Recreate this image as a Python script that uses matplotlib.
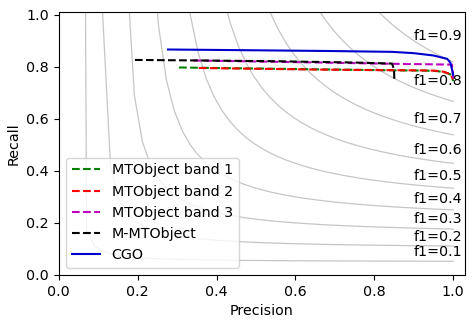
import numpy as np
import matplotlib
matplotlib.use("Agg")
import matplotlib.pyplot as plt

plt.rcParams['font.size'] = 10.3

# precision / recall curves for each detector
band1_p = [0.305, 0.45, 0.6, 0.75, 0.85, 0.93, 0.96, 0.98, 0.992, 0.997, 1.0]
band1_r = [0.797, 0.794, 0.791, 0.788, 0.786, 0.785, 0.783, 0.778, 0.771, 0.760, 0.745]

band2_p = [0.355, 0.5, 0.65, 0.8, 0.9, 0.95, 0.975, 0.99, 0.996, 1.0]
band2_r = [0.795, 0.792, 0.789, 0.787, 0.786, 0.785, 0.781, 0.773, 0.762, 0.752]

band3_p = [0.341, 0.5, 0.7, 0.85, 0.95, 0.997, 0.999, 1.0]
band3_r = [0.824, 0.820, 0.815, 0.811, 0.809, 0.808, 0.78, 0.755]

mmto_p = [0.193, 0.35, 0.55, 0.75, 0.845, 0.85, 0.851]
mmto_r = [0.826, 0.824, 0.821, 0.816, 0.812, 0.79, 0.745]

cgo_p = [0.277, 0.5, 0.7, 0.845, 0.9, 0.95, 0.985, 0.993, 0.997, 1.0]
cgo_r = [0.866, 0.863, 0.860, 0.857, 0.852, 0.843, 0.830, 0.815, 0.790, 0.768]

f_scores = [0.1, 0.2, 0.3, 0.4, 0.5, 0.6, 0.7, 0.8, 0.9]

fig = plt.figure(figsize=(4.74, 3.25), dpi=100)
ax = fig.add_axes([0.124, 0.154, 0.857, 0.809])

# iso-f1 curves
for f_score in f_scores:
    x = np.linspace(0.01, 1)
    y = f_score * x / (2 * x - f_score)
    ax.plot(x[y >= 0], y[y >= 0], color='gray', alpha=0.45, linewidth=0.9)
    ax.annotate('f1={0:0.1f}'.format(f_score), xy=(0.9, y[45] + 0.02))

ax.plot(band1_p, band1_r, '--', color='g', label='MTObject band 1')
ax.plot(band2_p, band2_r, '--', color='r', label='MTObject band 2')
ax.plot(band3_p, band3_r, '--', color='m', label='MTObject band 3')
ax.plot(mmto_p, mmto_r, '--', color='k', label='M-MTObject')
ax.plot(cgo_p, cgo_r, '-', color='mediumblue', label='CGO')

ax.set_xlim(0.0, 1.03)
ax.set_ylim(0.0, 1.01)
ax.set_xlabel('Precision')
ax.set_ylabel('Recall')
ax.legend(loc='lower left')

fig.savefig('out.png', dpi=100)
